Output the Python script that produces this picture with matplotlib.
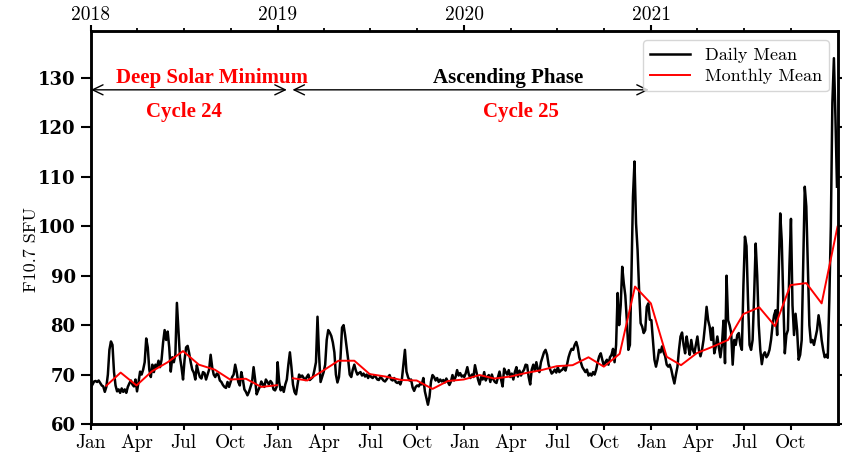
import numpy as np
import pandas as pd
import matplotlib
matplotlib.use('Agg')
import matplotlib.pyplot as plt
import matplotlib.dates as mdates

# ---------------- data ----------------
years = ['2018', '2019', '2020', '2021']
month_labels = ['Jan', 'Apr', 'Jul', 'Oct']
y_ticks = [60, 70, 80, 90, 100, 110, 120, 130]

# daily F10.7 values sampled every 3 days from 1 January of each year
daily_2018 = [67.5, 68.0, 68.6, 68.7, 68.5, 68.8, 68.3, 67.8, 67.6, 66.5, 67.5,
              70.0, 75.0, 76.7, 76.0, 70.5, 67.8, 66.6, 67.0, 66.3, 67.2, 66.5,
              67.0, 66.3, 67.5, 68.2, 68.8, 68.0, 67.6, 69.0, 66.6, 68.5, 70.6,
              70.0, 71.0, 72.5, 77.3, 75.5, 71.0, 69.5, 72.0, 70.5, 72.0, 71.5,
              72.8, 71.5, 73.0, 76.5, 79.0, 77.0, 78.7, 75.5, 70.6, 73.5, 72.5,
              74.0, 84.5, 79.0, 73.5, 71.5, 69.0, 73.0, 75.5, 75.8, 74.3, 72.5,
              71.0, 70.4, 69.0, 71.9, 70.5, 69.5, 69.2, 70.5, 70.3, 69.0, 70.0,
              71.0, 74.0, 71.5, 70.0, 69.5, 70.2, 70.0, 68.8, 68.5, 67.9, 67.5,
              67.3, 68.5, 67.5, 68.5, 69.5, 70.0, 72.0, 70.5, 68.5, 67.8, 70.5,
              69.0, 67.0, 66.5, 65.8, 66.5, 67.5, 68.5, 71.5, 69.0, 66.0, 66.8,
              67.5, 68.6, 68.0, 67.5, 69.0, 68.5, 68.0, 68.7, 68.3, 67.0, 66.8,
              67.5]
daily_2019 = [72.5, 68.5, 66.8, 67.5, 66.5, 68.0, 69.0, 72.0, 74.5, 71.5, 68.0,
              66.5, 66.0, 68.0, 70.0, 69.5, 69.8, 69.3, 68.9, 69.5, 70.0, 68.9,
              69.2, 69.5, 70.9, 72.5, 81.7, 74.0, 68.5, 69.5, 70.5, 72.0, 77.0,
              79.0, 78.5, 77.8, 76.5, 74.5, 70.0, 68.4, 69.5, 73.5, 79.5, 80.0,
              78.0, 75.5, 73.0, 70.0, 69.5, 71.0, 72.0, 70.8, 70.0, 70.3, 70.5,
              69.8, 70.2, 69.6, 70.0, 69.3, 70.0, 69.5, 69.3, 69.8, 69.5, 69.0,
              68.9, 69.5, 69.2, 68.8, 68.6, 69.0, 69.5, 69.9, 69.0, 68.8, 69.3,
              68.5, 68.3, 68.5, 68.0, 69.0, 72.0, 75.0, 70.6, 69.5, 68.8, 69.0,
              67.4, 66.7, 67.5, 67.8, 67.6, 68.2, 68.0, 69.3, 66.6, 65.2, 63.9,
              65.5, 68.6, 69.9, 69.5, 68.8, 69.3, 68.5, 69.0, 68.6, 68.9, 68.4,
              69.2, 68.5, 67.9, 68.6, 69.9, 68.8, 69.5, 70.9, 69.8, 70.3, 69.6,
              69.8]
daily_2020 = [69.5, 70.3, 71.5, 70.0, 69.3, 70.0, 69.5, 71.9, 70.5, 69.0, 68.0,
              69.5, 69.0, 70.5, 68.8, 69.5, 69.9, 68.5, 70.0, 69.0, 68.5, 68.3,
              69.5, 70.6, 69.0, 67.6, 71.2, 70.5, 70.0, 70.9, 69.5, 70.2, 69.0,
              70.5, 71.5, 69.6, 70.8, 69.8, 70.5, 71.0, 72.0, 71.9, 69.5, 68.0,
              71.0, 72.0, 70.8, 72.5, 71.0, 70.5, 72.5, 73.5, 74.5, 75.0, 74.0,
              72.0, 71.0, 70.2, 70.5, 71.0, 70.4, 71.5, 70.5, 70.8, 71.0, 71.5,
              70.8, 72.0, 73.5, 74.5, 75.2, 75.0, 76.0, 76.6, 75.5, 73.5, 72.5,
              71.5, 71.0, 70.5, 71.0, 69.8, 70.2, 69.8, 70.5, 70.0, 71.0, 72.5,
              73.7, 74.3, 73.0, 71.8, 72.5, 73.0, 72.0, 73.5, 74.0, 75.2, 72.5,
              76.0, 86.5, 80.0, 84.0, 91.8, 88.5, 86.0, 81.0, 75.0, 76.0, 90.0,
              106.0, 113.1, 100.6, 95.2, 87.1, 80.4, 79.7, 78.4, 79.0, 83.7, 84.4,
              81.1]
daily_2021 = [81.0, 77.0, 73.0, 71.6, 73.0, 75.0, 74.5, 75.7, 74.5, 73.7, 72.0,
              71.6, 72.0, 71.0, 69.5, 68.2, 70.0, 71.6, 75.0, 77.7, 78.5, 76.0,
              74.3, 77.7, 75.7, 74.0, 77.0, 75.0, 74.3, 76.0, 77.7, 75.0, 73.7,
              75.0, 77.0, 80.0, 83.7, 81.0, 79.7, 77.0, 79.5, 74.3, 75.7, 77.7,
              75.5, 73.5, 76.0, 80.9, 72.3, 90.0, 81.0, 80.0, 78.5, 72.0, 77.0,
              76.0, 78.0, 78.4, 76.0, 75.0, 88.0, 97.9, 96.0, 85.0, 76.0, 75.0,
              77.0, 86.0, 96.5, 90.0, 80.0, 75.0, 72.1, 74.0, 74.5, 73.5, 74.0,
              75.0, 77.0, 80.0, 82.0, 83.0, 78.0, 90.0, 102.6, 97.0, 85.0, 74.3,
              78.0, 79.0, 92.0, 101.5, 84.0, 78.0, 82.3, 79.0, 73.0, 74.0, 77.0,
              92.0, 108.0, 104.0, 92.0, 80.0, 76.5, 77.0, 76.0, 77.5, 79.0, 82.0,
              80.0, 77.0, 75.0, 73.5, 74.0, 73.4, 85.0, 100.0, 125.0, 134.0, 122.0,
              108.0]

# monthly means (plotted at month end)
monthly_2018 = [67.75, 70.4, 67.8, 70.65, 72.5, 74.75, 72.0, 71.0, 69.0, 69.15, 67.5, 67.85]
monthly_2019 = [69.25, 68.8, 70.8, 72.8, 72.8, 70.1, 69.6, 68.9, 68.8, 67.1, 68.7, 69.0]
monthly_2020 = [69.9, 69.2, 69.6, 70.3, 70.9, 71.7, 71.9, 73.5, 71.6, 74.2, 87.8, 84.4]
monthly_2021 = [73.6, 71.9, 74.35, 75.6, 77.0, 82.25, 83.6, 79.8, 88.1, 88.5, 84.4, 99.9]

# ---------------- build series ----------------
daily_sets = [daily_2018, daily_2019, daily_2020, daily_2021]
daily_dates = []
daily_vals = []
for yr, vals in zip(years, daily_sets):
    daily_dates.append(pd.date_range(f'{yr}-01-01', periods=len(vals), freq='3D'))
    daily_vals.extend(vals)
daily_dates = daily_dates[0].append(daily_dates[1:])


def month_ends(yr, n=12):
    return pd.date_range(f'{yr}-01-01', periods=n, freq='MS') + pd.offsets.MonthEnd(0)


m18_dates = month_ends('2018')
m_rest_dates = month_ends('2019').append([month_ends('2020'), month_ends('2021')])
m_rest_vals = monthly_2019 + monthly_2020 + monthly_2021

# ---------------- style ----------------
plt.rcParams['font.family'] = ['cmr10', 'DejaVu Serif']
plt.rcParams['axes.formatter.use_mathtext'] = True
plt.rcParams['mathtext.fontset'] = 'cm'

W, H = 842, 455
fig = plt.figure(figsize=(W / 100, H / 100), dpi=100)
ax = fig.add_axes([91 / W, 1 - 424 / H, (838 - 91) / W, (424 - 31) / H])

ax.plot(daily_dates, daily_vals, color='black', lw=1.8, label='Daily Mean', zorder=2)
ax.plot(m18_dates, monthly_2018, color='red', lw=1.4, label='Monthly Mean', zorder=3)
ax.plot(m_rest_dates, m_rest_vals, color='red', lw=1.4, zorder=3)

x0 = mdates.date2num(pd.Timestamp('2018-01-01'))
x1 = mdates.date2num(pd.Timestamp('2022-01-01'))
ax.set_xlim(x0, x1)
ax.set_ylim(60, 139.5)

# bottom ticks
bt_dates = [pd.Timestamp(f'{y}-{m:02d}-01') for y in years for m in (1, 4, 7, 10)]
ax.set_xticks([mdates.date2num(d) for d in bt_dates], month_labels * len(years))
ax.tick_params(axis='x', which='major', direction='out', length=4.5, width=1.5,
               labelsize=14, pad=3)
ax.set_yticks(y_ticks, [str(v) for v in y_ticks], fontfamily='DejaVu Serif',
              fontweight='bold')
ax.tick_params(axis='y', which='major', direction='out', length=7, width=1.5,
               labelsize=13, right=True, pad=4)
for t in ax.yaxis.get_major_ticks():
    t.tick2line.set_markersize(3.5)
ax.set_ylabel('F10.7 SFU', fontsize=13)
ax.yaxis.set_label_coords(-0.069, 0.445)

# top axis with years
ax2 = ax.twiny()
ax2.set_xlim(x0, x1)
ax2.set_xticks([mdates.date2num(pd.Timestamp(f'{y}-01-01')) for y in years], years)
ax2.set_xticks([mdates.date2num(pd.Timestamp(f'{y}-{m:02d}-01')) for y in years for m in (4, 7, 10)],
               minor=True)
ax2.tick_params(axis='x', which='major', direction='out', length=4.5, width=1.5,
                labelsize=14, pad=0.5)
ax2.tick_params(axis='x', which='minor', direction='out', length=2.5, width=1.3)

for a in (ax, ax2):
    for s in a.spines.values():
        s.set_linewidth(1.8)

# arrows and annotations
arrow_y = 127.6
arrowprops = dict(arrowstyle='<->,head_length=0.5,head_width=0.24', lw=1.0,
                  color='black', shrinkA=0, shrinkB=0, mutation_scale=15)
ax.annotate('', xy=(mdates.date2num(pd.Timestamp('2019-01-19')), arrow_y),
            xytext=(mdates.date2num(pd.Timestamp('2018-01-01')), arrow_y),
            arrowprops=arrowprops)
ax.annotate('', xy=(mdates.date2num(pd.Timestamp('2020-12-27')), arrow_y),
            xytext=(mdates.date2num(pd.Timestamp('2019-01-30')), arrow_y),
            arrowprops=arrowprops)

tfont = dict(family='Liberation Serif', fontweight='bold', fontsize=15,
             ha='center', va='center')
ax.text(mdates.date2num(pd.Timestamp('2018-08-25')), 130.0, 'Deep Solar Minimum',
        color='red', **tfont)
ax.text(mdates.date2num(pd.Timestamp('2018-07-01')), 123.2, 'Cycle 24',
        color='red', **tfont)
ax.text(mdates.date2num(pd.Timestamp('2020-03-27')), 130.0, 'Ascending Phase',
        color='black', **tfont)
ax.text(mdates.date2num(pd.Timestamp('2020-04-21')), 123.2, 'Cycle 25',
        color='red', **tfont)

leg = ax.legend(loc='upper right', fontsize=13, handlelength=2.2, borderaxespad=0.5,
                labelspacing=0.3, framealpha=0.8)

fig.savefig('out.png', dpi=100)
